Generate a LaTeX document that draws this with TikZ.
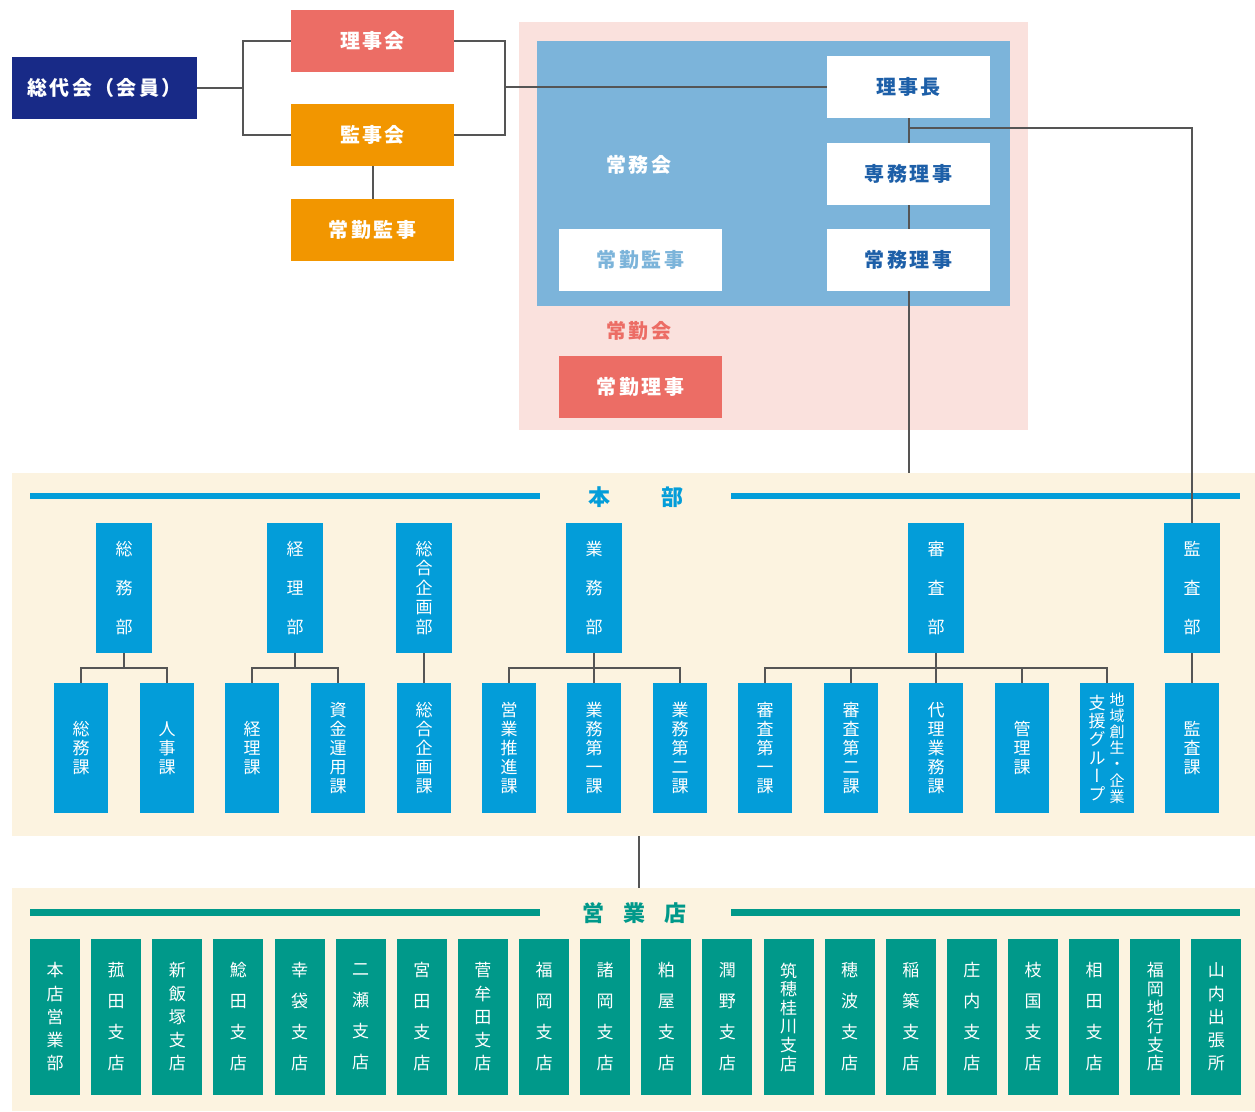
\documentclass[tikz,border=0pt]{standalone}
\usepackage{fontspec}
\setmainfont{Noto Sans CJK JP}
\definecolor{navy}{HTML}{182A87}
\definecolor{redc}{HTML}{EC6D65}
\definecolor{orangec}{HTML}{F29600}
\definecolor{pinkbg}{HTML}{FAE1DD}
\definecolor{bluebg}{HTML}{7CB4DA}
\definecolor{darkblue}{HTML}{1D5FA8}
\definecolor{deptblue}{HTML}{039DD9}
\definecolor{cream}{HTML}{FCF3E0}
\definecolor{brteal}{HTML}{00998A}
\definecolor{linegray}{HTML}{555555}
\begin{document}
\begin{tikzpicture}[x=1pt,y=-1pt,
  box/.style={rectangle, inner sep=0pt, text=white, align=center},
  topbox/.style={box, minimum width=163pt, minimum height=62pt, font=\fontsize{20}{24}\selectfont\bfseries\addfontfeatures{LetterSpace=12}},
  region/.style={rectangle, inner sep=0pt},
  dept/.style={box, fill=deptblue, minimum width=56pt, minimum height=130pt},
  sec/.style={box, fill=deptblue, minimum width=54pt, minimum height=130pt, font=\fontsize{17}{19}\selectfont},
  brbox/.style={box, fill=brteal, minimum width=50pt, minimum height=156pt},
  conn/.style={draw=linegray, line width=2pt},
  lbl/.style={inner sep=0pt, font=\fontsize{20}{24}\selectfont\bfseries\addfontfeatures{LetterSpace=12}}
]
\useasboundingbox (0,0) rectangle (1255,1111);
\fill[white] (0,0) rectangle (1255,1111);

% ---------- regions ----------
\node[region, fill=pinkbg, minimum width=509pt, minimum height=408pt] (pinkR) at (773.5,226) {};
\node[region, fill=bluebg, minimum width=473pt, minimum height=265pt] (blueR) at (773.5,173.5) {};
\node[region, fill=cream, minimum width=1243pt, minimum height=363pt] (honbu) at (633.5,654.5) {};
\node[region, fill=cream, minimum width=1243pt, minimum height=223pt] (eigyo) at (633.5,999.5) {};

% ---------- top nodes ----------
\node[topbox, fill=navy, minimum width=185pt] (soudai) at (104.5,88) {総代会（会員）};
\node[topbox, fill=redc] (rijikai) at (372.5,41) {理事会};
\node[topbox, fill=orangec] (kanjikai) at (372.5,135) {監事会};
\node[topbox, fill=orangec] (jkanji) at (372.5,230) {常勤監事};

\node[topbox, fill=white, text=darkblue] (rijicho) at (908.5,87) {理事長};
\node[topbox, fill=white, text=darkblue] (senmu) at (908.5,174) {専務理事};
\node[topbox, fill=white, text=darkblue] (joumu) at (908.5,260) {常務理事};
\node[lbl, text=white] (joumukai) at (639,165) {常務会};
\node[topbox, fill=white, text=bluebg] (jkanji2) at (640.5,260) {常勤監事};
\node[lbl, text=redc] (joukinkai) at (639,331) {常勤会};
\node[topbox, fill=redc] (jriji) at (640.5,387) {常勤理事};

% ---------- top connectors ----------
\coordinate (jL) at (243,88);
\coordinate (jR) at (505,87);
\coordinate (kb) at (908,128);
\draw[conn] (soudai.east) -- (jL);
\draw[conn] (rijikai.west) -| (jL) |- (kanjikai.west);
\draw[conn] (rijikai.east) -| (jR) |- (kanjikai.east);
\draw[conn] (jR) -- (rijicho.west);
\draw[conn] (kanjikai.south) -- (jkanji.north);
\draw[conn] (rijicho.south) -- (senmu.north);
\draw[conn] (senmu.south) -- (joumu.north);
\draw[conn] (joumu.south) -- (joumu.south |- honbu.north);

% ---------- honbu title ----------
\fill[deptblue] (30,493) rectangle (540,499);
\fill[deptblue] (731,493) rectangle (1240,499);
\node[inner sep=0pt, text=deptblue, font=\fontsize{22}{24}\selectfont\bfseries] (honbuT) at (636,497) {本\hspace{52pt}部};

% ---------- departments ----------
\node[dept, font=\fontsize{17}{39}\selectfont] (d1) at (124,588) {総\\務\\部};
\node[dept, font=\fontsize{17}{39}\selectfont] (d2) at (295,588) {経\\理\\部};
\node[dept, font=\fontsize{17}{19.5}\selectfont] (d3) at (424,588) {総\\合\\企\\画\\部};
\node[dept, font=\fontsize{17}{39}\selectfont] (d4) at (594,588) {業\\務\\部};
\node[dept, font=\fontsize{17}{39}\selectfont] (d5) at (936,588) {審\\査\\部};
\node[dept, font=\fontsize{17}{39}\selectfont] (kansa) at (1192,588) {監\\査\\部};

% ---------- sections ----------
\foreach \i/\x/\t in {0/81/{総\\務\\課},1/167/{人\\事\\課},2/252/{経\\理\\課},3/338/{資\\金\\運\\用\\課},
  4/424/{総\\合\\企\\画\\課},5/509/{営\\業\\推\\進\\課},6/594/{業\\務\\第\\一\\課},7/680/{業\\務\\第\\二\\課},
  8/765/{審\\査\\第\\一\\課},9/851/{審\\査\\第\\二\\課},10/936/{代\\理\\業\\務\\課},11/1022/{管\\理\\課},13/1192/{監\\査\\課}}
  \node[sec] (s\i) at (\x,748) {\t};
\node[sec] (s12) at (1107,748) {};
\node[inner sep=0pt, text=white, align=center, font=\fontsize{15}{16.2}\selectfont\addfontfeatures{RawFeature=+vert}] (s12a) at ([xshift=10pt]s12.center) {地\\域\\創\\生\\・\\企\\業};
\node[inner sep=0pt, text=white, align=center, font=\fontsize{17}{18.2}\selectfont\addfontfeatures{RawFeature=+vert}] (s12b) at ([xshift=-10pt]s12.center) {支\\援\\グ\\ル\\ー\\プ};

% ---------- honbu connectors ----------
\coordinate (b1) at (124,668);
\coordinate (b2) at (295,668);
\coordinate (b4) at (594,668);
\coordinate (b5) at (936,668);
\draw[conn] (d1.south) -- (b1);
\draw[conn] (s0.north) |- (b1) -| (s1.north);
\draw[conn] (d2.south) -- (b2);
\draw[conn] (s2.north) |- (b2) -| (s3.north);
\draw[conn] (d3.south) -- (s4.north);
\draw[conn] (d4.south) -- (b4);
\draw[conn] (s5.north) |- (b4) -| (s7.north);
\draw[conn] (s6.north) -- (s6.north |- b4);
\draw[conn] (d5.south) -- (b5);
\draw[conn] (s8.north) |- (b5) -| (s12.north);
\draw[conn] (s9.north) -- (s9.north |- b5);
\draw[conn] (s10.north) -- (s10.north |- b5);
\draw[conn] (s11.north) -- (s11.north |- b5);
\draw[conn] (kansa.south) -- (s13.north);
\draw[conn] (kb) -| (kansa.north);

% ---------- between regions ----------
\coordinate (midx) at (639,0);
\draw[conn] (honbu.south -| midx) -- (eigyo.north -| midx);

% ---------- eigyo title ----------
\fill[brteal] (30,909) rectangle (540,916);
\fill[brteal] (731,909) rectangle (1240,916);
\node[inner sep=0pt, text=brteal, font=\fontsize{22}{24}\selectfont\bfseries] (eigyoT) at (634.5,913) {営\hspace{19.5pt}業\hspace{19.5pt}店};

% ---------- branches ----------
\foreach \i/\s/\t in {0/23.25/{本\\店\\営\\業\\部},1/31/{菰\\田\\支\\店},2/23.25/{新\\飯\\塚\\支\\店},
  3/31/{鯰\\田\\支\\店},4/31/{幸\\袋\\支\\店},5/31/{二\\瀬\\支\\店},6/31/{宮\\田\\支\\店},
  7/23.25/{菅\\牟\\田\\支\\店},8/31/{福\\岡\\支\\店},9/31/{諸\\岡\\支\\店},10/31/{粕\\屋\\支\\店},
  11/31/{潤\\野\\支\\店},12/18.6/{筑\\穂\\桂\\川\\支\\店},13/31/{穂\\波\\支\\店},14/31/{稲\\築\\支\\店},
  15/31/{庄\\内\\支\\店},16/31/{枝\\国\\支\\店},17/31/{相\\田\\支\\店},18/18.6/{福\\岡\\地\\行\\支\\店},
  19/23.25/{山\\内\\出\\張\\所}}
  \node[brbox, font=\fontsize{17}{\s}\selectfont] (br\i) at ({55+61.13*\i},1017) {\t};

\end{tikzpicture}
\end{document}
